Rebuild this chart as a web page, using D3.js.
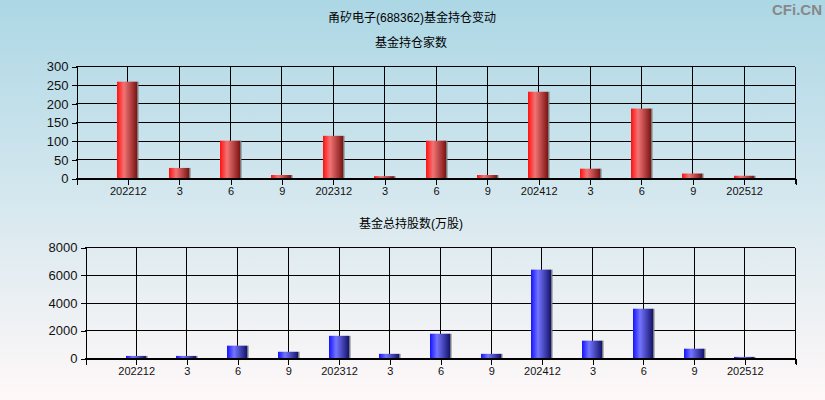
<!DOCTYPE html>
<html>
<head>
<meta charset="utf-8">
<script src="https://cdn.jsdelivr.net/npm/d3@7/dist/d3.min.js"></script>
<style>
  html, body { margin: 0; padding: 0; }
  body { width: 825px; height: 400px; overflow: hidden; }
  svg { display: block; font-family: "Liberation Sans", Arial, "Noto Sans CJK SC", sans-serif; }
</style>
</head>
<body>
<svg id="chart" width="825" height="400"></svg>
<script>
// ---- data ----
const categories = ["202212","3","6","9","202312","3","6","9","202412","3","6","9","202512"];
const fundCount  = [258, 27, 100, 8, 113, 5, 100, 8, 231, 25, 186, 12, 6];
const fundShares = [150, 150, 890, 450, 1600, 300, 1750, 300, 6370, 1250, 3550, 670, 80];
const countTicks  = [0, 50, 100, 150, 200, 250, 300];
const sharesTicks = [0, 2000, 4000, 6000, 8000];
const mainTitle = "甬矽电子(688362)基金持仓变动";
const topTitle = "基金持仓家数";
const bottomTitle = "基金总持股数(万股)";
const watermark = "CFi.CN";

const svg = d3.select("#chart");
const W = 825, H = 400;
const defs = svg.append("defs");

// background
const bg = defs.append("linearGradient").attr("id", "bg").attr("x1", 0).attr("y1", 0).attr("x2", 0).attr("y2", 1);
bg.append("stop").attr("offset", "0%").attr("stop-color", "#acd7e5");
bg.append("stop").attr("offset", "100%").attr("stop-color", "#fff8f8");
svg.append("rect").attr("width", W).attr("height", H).attr("fill", "url(#bg)");

function barGrad(id, c0, c1, c2) {
  const g = defs.append("linearGradient").attr("id", id).attr("x1", 0).attr("y1", 0).attr("x2", 1).attr("y2", 0);
  g.append("stop").attr("offset", "0%").attr("stop-color", c0);
  g.append("stop").attr("offset", "35%").attr("stop-color", c1);
  g.append("stop").attr("offset", "100%").attr("stop-color", c2);
}
barGrad("redGrad", "#ff1010", "#f27474", "#7c1414");
barGrad("blueGrad", "#1414ff", "#7474ff", "#14146e");

// titles
svg.append("text").attr("x", 412).attr("y", 22).attr("text-anchor", "middle")
  .attr("font-size", 12).attr("fill", "#000").text(mainTitle);
svg.append("text").attr("x", 822).attr("y", 15).attr("text-anchor", "end")
  .attr("font-size", 15).attr("font-weight", "bold").attr("fill", "#888").text(watermark);

function drawPanel(opt) {
  const { left, right, top, bottom, values, ticks, grad, title, titleY } = opt;
  const g = svg.append("g");
  const x = d3.scalePoint().domain(d3.range(categories.length)).range([left, right]).padding(1);
  const y = d3.scaleLinear().domain([ticks[0], ticks[ticks.length - 1]]).range([bottom, top]);

  g.append("text").attr("x", 411).attr("y", titleY).attr("text-anchor", "middle")
    .attr("font-size", 12).attr("fill", "#000").text(title);

  // grid lines
  const grid = g.append("g").attr("stroke", "#000").attr("stroke-width", 1).attr("shape-rendering", "crispEdges");
  ticks.forEach(t => {
    grid.append("line").attr("x1", left).attr("x2", right).attr("y1", Math.round(y(t)) + 0.5).attr("y2", Math.round(y(t)) + 0.5);
  });
  categories.forEach((c, i) => {
    const xx = Math.round(x(i)) + 0.5;
    grid.append("line").attr("x1", xx).attr("x2", xx).attr("y1", top).attr("y2", bottom);
  });
  grid.append("line").attr("x1", Math.round(right) + 0.5).attr("x2", Math.round(right) + 0.5).attr("y1", Math.round(top) + 0.5).attr("y2", bottom + 6);

  // bars
  const bw = 20;
  const bars = g.append("g");
  values.forEach((v, i) => {
    const cx = Math.round(x(i));
    const yt = y(v);
    const h = Math.max(0, y(0) - yt);
    bars.append("rect").attr("x", cx - bw / 2 + bw).attr("y", yt).attr("width", 1.5).attr("height", h).attr("fill", "#7a7a7a");
    bars.append("rect").attr("x", cx - bw / 2).attr("y", yt).attr("width", bw).attr("height", h).attr("fill", `url(#${grad})`);
  });

  // axes
  const ya = d3.axisLeft(y).tickValues(ticks).tickSize(5).tickPadding(3).tickFormat(d3.format("d"));
  const yg = g.append("g").attr("transform", `translate(${Math.round(left) + 0.5},0.5)`).call(ya);
  yg.select(".domain").attr("stroke", "#000").attr("shape-rendering", "crispEdges");
  yg.selectAll(".tick line").attr("stroke", "#000").attr("shape-rendering", "crispEdges");
  yg.selectAll(".tick text").attr("font-size", 13).attr("fill", "#111").attr("font-family", "Liberation Sans, Arial, sans-serif");

  const xa = d3.axisBottom(x).tickSize(6).tickPadding(3).tickFormat(i => categories[i]);
  const xg = g.append("g").attr("transform", `translate(0.5,${Math.round(bottom) + 0.5})`).call(xa);
  xg.select(".domain").attr("stroke", "#000").attr("shape-rendering", "crispEdges");
  xg.selectAll(".tick line").attr("stroke", "#000").attr("shape-rendering", "crispEdges");
  xg.selectAll(".tick text").attr("font-size", 11).attr("fill", "#111").attr("font-family", "Liberation Sans, Arial, sans-serif");
}

drawPanel({ left: 76, right: 795, top: 66, bottom: 178, values: fundCount, ticks: countTicks,
  grad: "redGrad", title: topTitle, titleY: 47 });
drawPanel({ left: 85, right: 795, top: 247, bottom: 358, values: fundShares, ticks: sharesTicks,
  grad: "blueGrad", title: bottomTitle, titleY: 228 });
</script>
</body>
</html>
